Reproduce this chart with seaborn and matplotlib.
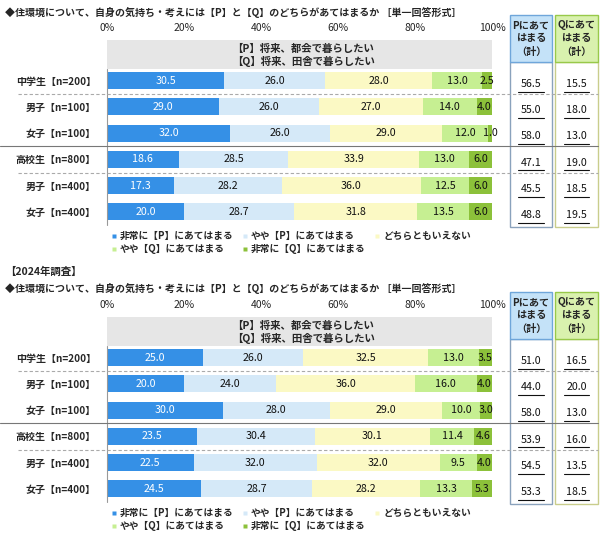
import numpy as np
import pandas as pd
import matplotlib.pyplot as plt
from matplotlib.patches import Rectangle
from matplotlib.lines import Line2D
import seaborn as sns

# ---- data ----
title = "◆住環境について、自身の気持ち・考えには【P】と【Q】のどちらがあてはまるか ［単一回答形式］"
header_p = "【P】将来、都会で暮らしたい"
header_q = "【Q】将来、田舎で暮らしたい"
series = ["非常に【P】にあてはまる", "やや【P】にあてはまる", "どちらともいえない",
          "やや【Q】にあてはまる", "非常に【Q】にあてはまる"]
rows = ["中学生【n=200】", "男子【n=100】", "女子【n=100】",
        "高校生【n=800】", "男子【n=400】", "女子【n=400】"]
ticks = [0, 20, 40, 60, 80, 100]

# latest survey (upper panel)
very_p_new = [30.5, 29.0, 32.0, 18.6, 17.3, 20.0]
some_p_new = [26.0, 26.0, 26.0, 28.5, 28.2, 28.7]
neutral_new = [28.0, 27.0, 29.0, 33.9, 36.0, 31.8]
some_q_new = [13.0, 14.0, 12.0, 13.0, 12.5, 13.5]
very_q_new = [2.5, 4.0, 1.0, 6.0, 6.0, 6.0]
p_total_new = [56.5, 55.0, 58.0, 47.1, 45.5, 48.8]
q_total_new = [15.5, 18.0, 13.0, 19.0, 18.5, 19.5]

# 2024 survey (lower panel)
very_p_2024 = [25.0, 20.0, 30.0, 23.5, 22.5, 24.5]
some_p_2024 = [26.0, 24.0, 28.0, 30.4, 32.0, 28.7]
neutral_2024 = [32.5, 36.0, 29.0, 30.1, 32.0, 28.2]
some_q_2024 = [13.0, 16.0, 10.0, 11.4, 9.5, 13.3]
very_q_2024 = [3.5, 4.0, 3.0, 4.6, 4.0, 5.3]
p_total_2024 = [51.0, 44.0, 58.0, 53.9, 54.5, 53.3]
q_total_2024 = [16.5, 20.0, 13.0, 16.0, 13.5, 18.5]

colors = ["#3590e6", "#d5e9f8", "#fbf9c4", "#c6ef92", "#8cc13a"]

sns.set_theme(style="white")
plt.rcParams['font.family'] = ['Noto Sans CJK JP', 'DejaVu Sans']

W, H = 600, 538
fig = plt.figure(figsize=(W / 100, H / 100), dpi=100)


def py2d(py, off):
    # pixel row -> data y of the bar axes
    return -1.55 + (py - off - 40) / 26.2


def draw_panel(off, segs, ptot, qtot):
    ax = fig.add_axes([107 / W, 1 - (225 + off) / H, 385 / W, 185 / H])
    vals = np.array(segs).T
    cum = np.cumsum(vals, axis=1)
    df = pd.DataFrame(cum, columns=series)
    df["row"] = rows
    # stacked bars: draw cumulative totals from longest to shortest
    for k in range(4, -1, -1):
        sns.barplot(data=df, x=series[k], y="row", orient="h", color=colors[k],
                    saturation=1, width=0.65, errorbar=None, linewidth=0, ax=ax)
    for i in range(len(rows)):
        for k in range(5):
            v = vals[i, k]
            ax.text(cum[i, k] - v / 2, i, f"{v:.1f}", ha="center", va="center",
                    fontsize=7.7, color="white" if k == 0 else "#111111")

    ax.set_xlim(0, 100)
    ax.set_ylim(5.5, -1.55)
    ax.set_xlabel("")
    ax.set_ylabel("")
    ax.xaxis.tick_top()
    ax.set_xticks(ticks)
    ax.set_xticklabels([f"{t}%" for t in ticks], fontsize=7.5)
    ax.set_yticks(range(len(rows)))
    ax.set_yticklabels(rows, fontsize=7.2, fontweight="bold")
    ax.tick_params(axis="both", length=0)
    ax.tick_params(axis="x", pad=5)
    ax.tick_params(axis="y", pad=8)
    for s in ax.spines.values():
        s.set_visible(False)

    # header box with the two statements
    ax.add_patch(Rectangle((0, -1.55), 100, 1.1, facecolor="#e6e6e6",
                           edgecolor="none", zorder=0))
    ax.text(32.5, -1.22, header_p, fontsize=7.5, fontweight="bold", va="center")
    ax.text(32.5, -0.72, header_q, fontsize=7.5, fontweight="bold", va="center")
    ax.plot([0, 0], [-0.45, 5.5], color="#999999", lw=0.8, clip_on=False)

    # separators
    ax.plot([-23, 127.5], [0.5, 0.5], color="#aaaaaa", lw=0.8, ls=(0, (3, 2)), clip_on=False)
    ax.plot([-27.8, 127.5], [2.5, 2.5], color="#777777", lw=0.8, clip_on=False)
    ax.plot([-23, 127.5], [3.5, 3.5], color="#aaaaaa", lw=0.8, ls=(0, (3, 2)), clip_on=False)

    # P / Q total boxes
    top = py2d(15 + off, off)
    hbot = py2d(62 + off, off)
    bbot = py2d(227 + off, off)
    boxes = [(104.7, 115.6, "#c4e2f8", "#6fa6da", "#8aa2bc", "Pにあて\nはまる\n（計）", ptot),
             (116.4, 127.5, "#d9f1ae", "#98c94a", "#c9cd8c", "Qにあて\nはまる\n（計）", qtot)]
    for x0, x1, hfc, hec, bec, label, tot in boxes:
        ax.add_patch(Rectangle((x0, hbot), x1 - x0, bbot - hbot, facecolor="none",
                               edgecolor=bec, lw=1.0, clip_on=False))
        ax.add_patch(Rectangle((x0, top), x1 - x0, hbot - top, facecolor=hfc,
                               edgecolor=hec, lw=1.0, clip_on=False))
        xc = (x0 + x1) / 2
        ax.text(xc, (top + hbot) / 2, label, ha="center", va="center", fontsize=7.3,
                fontweight="bold", linespacing=1.4, clip_on=False)
        for i, t in enumerate(tot):
            ax.text(xc, i + 0.12, f"{t:.1f}", ha="center", va="center",
                    fontsize=7.7, color="#111111", clip_on=False)
            ax.plot([xc - 3.3, xc + 3.3], [i + 0.42, i + 0.42], color="#111111",
                    lw=0.8, clip_on=False)

    fig.text(5 / W, 1 - (12 + off) / H, title, fontsize=7.2, fontweight="bold",
             va="center", ha="left")

    handles = [Line2D([0], [0], marker="s", ls="none", markersize=3.5,
                      markerfacecolor=colors[k], markeredgecolor="none") for k in range(5)]
    order = [0, 3, 1, 4, 2]
    fig.legend([handles[k] for k in order], [series[k] for k in order], ncol=3,
               loc="upper left", bbox_to_anchor=(111 / W, 1 - (231 + off) / H),
               frameon=False, prop={"size": 7.0, "weight": "bold"},
               handlelength=0.6, handletextpad=0.3, columnspacing=0.9,
               borderaxespad=0, borderpad=0, labelspacing=0.35)


draw_panel(0, [very_p_new, some_p_new, neutral_new, some_q_new, very_q_new],
           p_total_new, q_total_new)
fig.text(5 / W, 1 - 272 / H, "【2024年調査】", fontsize=7.5, fontweight="bold",
         va="center", ha="left")
draw_panel(277, [very_p_2024, some_p_2024, neutral_2024, some_q_2024, very_q_2024],
           p_total_2024, q_total_2024)

fig.savefig("out.png", dpi=100)
